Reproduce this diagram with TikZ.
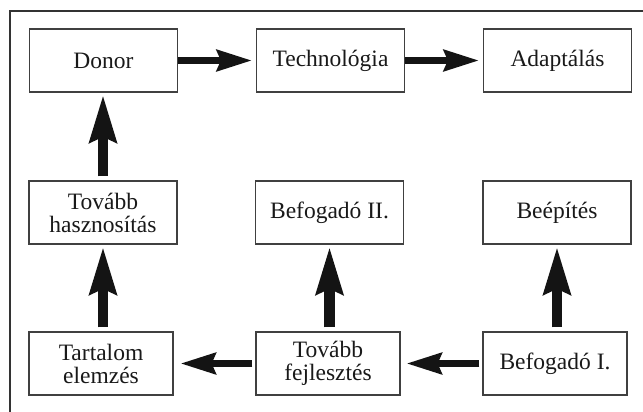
\documentclass[tikz,border=0pt]{standalone}
\usepackage{fontspec}
\setmainfont{Liberation Serif}
\usetikzlibrary{arrows.meta}
\begin{document}
\begin{tikzpicture}[x=1pt,y=-1pt,
  box/.style={draw=black!75, line width=1.1pt, minimum height=63pt,
    inner sep=0pt, align=center, text=black!90,
    font=\fontsize{23.5}{23}\selectfont},
  widebox/.style={box, minimum width=148pt},
  narrowbox/.style={box, minimum width=144pt},
  hArrow/.style={line width=7pt, black!92,
    -{Stealth[length=35pt, width=21pt, inset=4pt]}},
  vArrow/.style={line width=10.5pt, black!92,
    -{Stealth[length=47pt, width=26pt, inset=5pt]},
    shorten <=4pt, shorten >=2pt}]
  \useasboundingbox (0,0) rectangle (643,412);
  % page frame: top and left rules only
  \draw[black!80, line width=1.3pt] (643,11) -- (10,11) -- (10,412);

  % top row
  \node[widebox] (donor) at (103.5,60.5) {Donor};
  \node[widebox] (tech)  at (330.5,60.5) {Technológia};
  \node[widebox] (adapt) at (557.5,60.5) {Adaptálás};
  % middle row
  \node[widebox] (haszn) at (103,212.5) {Tovább\\hasznosítás};
  \node[widebox] (befII) at (329.5,212.5) {Befogadó II.};
  \node[widebox] (beep)  at (557,212.5) {Beépítés};
  % bottom row
  \node[narrowbox] (tart) at (101,363.5) {Tartalom\\elemzés};
  \node[narrowbox] (fejl) at (328,363.5) {Tovább\\fejlesztés};
  \node[narrowbox] (befI) at (555,363.5) {Befogadó I.};

  % horizontal flow
  \draw[hArrow, shorten >=4pt] (donor) -- (tech);
  \draw[hArrow, shorten >=4pt] (tech) -- (adapt);
  \draw[hArrow, shorten <=3pt, shorten >=6pt] (befI) -- (fejl);
  \draw[hArrow, shorten <=3pt, shorten >=7pt] (fejl) -- (tart);

  % vertical flow
  \draw[vArrow] (haszn.north) -- (haszn.north |- donor.south);
  \draw[vArrow] (tart.north -| haszn.south) -- (haszn.south);
  \draw[vArrow] (fejl.north -| befII.south) -- (befII.south);
  \draw[vArrow] (befI.north -| beep.south) -- (beep.south);
\end{tikzpicture}
\end{document}
